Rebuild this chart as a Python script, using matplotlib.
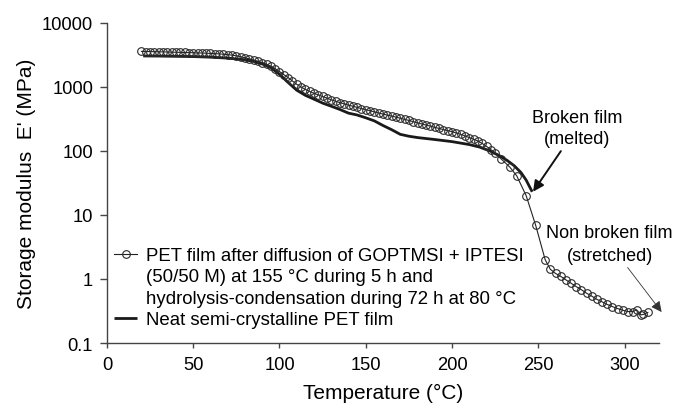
import matplotlib
matplotlib.use("Agg")
import matplotlib.pyplot as plt
from matplotlib.lines import Line2D
from matplotlib.ticker import FixedLocator, FixedFormatter, NullLocator

plt.rcParams['font.family'] = ['Liberation Sans', 'DejaVu Sans']

# PET film after GOPTMSI + IPTESI diffusion (open circles)
temp_treated = [
    20, 22.5, 25, 27.5, 30, 32.5, 35, 37.5, 40, 42.5, 45, 47.5, 50, 52.5, 55, 57.5,
    60, 62.5, 65, 67.5, 70, 72.5, 75, 77.5, 80, 82.5, 85, 87.5, 90, 92.5, 95, 97.5,
    100, 102.5, 105, 107.5, 110, 112.5, 115, 117.5, 120, 122.5, 125, 127.5, 130,
    132.5, 135, 137.5, 140, 142.5, 145, 147.5, 150, 152.5, 155, 157.5, 160, 162.5,
    165, 167.5, 170, 172.5, 175, 177.5, 180, 182.5, 185, 187.5, 190, 192.5, 195,
    197.5, 200, 202.5, 205, 207.5, 210, 212.5, 215, 217.5, 220, 222.5, 225,
    228.5, 233.5, 237.5, 243, 248.5, 254,
    257, 260, 263, 266, 269, 272, 275, 278, 281, 284, 287, 290, 293, 296, 299,
    302, 305, 307, 309.5, 311, 313.5,
]
modulus_treated = [
    3590, 3580, 3570, 3560, 3545, 3530, 3515, 3500, 3485, 3470, 3455, 3440, 3425,
    3405, 3390, 3365, 3340, 3315, 3285, 3250, 3200, 3140, 3070, 2970, 2860, 2750,
    2630, 2520, 2410, 2270, 2110, 1930, 1740, 1560, 1400, 1240, 1100, 1000, 915,
    850, 795, 750, 710, 670, 630, 600, 570, 545, 520, 500, 480, 460, 442, 425, 408,
    392, 377, 363, 351, 338, 325, 312, 300, 287, 275, 264, 254, 244, 234, 225, 216,
    208, 200, 191, 182, 172, 162, 153, 143, 131, 118, 105, 93,
    75, 56, 41, 20, 6.9, 2.0,
    1.42, 1.22, 1.10, 0.97, 0.86, 0.76, 0.68, 0.60, 0.54, 0.48, 0.44, 0.40, 0.37,
    0.345, 0.325, 0.31, 0.31, 0.33, 0.275, 0.28, 0.30,
]

# Neat semi-crystalline PET film (solid line)
temp_neat = [
    21, 30, 40, 50, 60, 70, 80, 85, 90, 95, 100, 105, 110, 115, 120, 125, 130, 135,
    140, 145, 150, 155, 160, 165, 170, 175, 180, 190, 200, 210, 216, 222, 228, 232,
    236, 240, 243, 245, 246.5,
]
modulus_neat = [
    3050, 3040, 3010, 2985, 2920, 2820, 2660, 2510, 2290, 2000, 1580, 1175, 890,
    740, 645, 560, 500, 445, 390, 365, 330, 295, 250, 215, 182, 170, 162, 151, 140,
    126, 115, 100, 83, 71, 59, 46, 35, 27.5, 23,
]

label_treated = ["PET film after diffusion of GOPTMSI + IPTESI",
                 "(50/50 M) at 155 \u00b0C during 5 h and",
                 "hydrolysis-condensation during 72 h at 80 \u00b0C"]
label_neat = "Neat semi-crystalline PET film"

y_ticks = [0.1, 1, 10, 100, 1000, 10000]
y_tick_labels = ["0.1", "1", "10", "100", "1000", "10000"]
x_ticks = [0, 50, 100, 150, 200, 250, 300]

fig = plt.figure(figsize=(6.78, 4.06), dpi=100)
ax = fig.add_axes([0.1578, 0.1527, 0.8142, 0.7883])

line_neat, = ax.plot(temp_neat, modulus_neat, color='#1a1a1a', lw=2.0,
                     solid_capstyle='butt', zorder=2)
line_treated, = ax.plot(temp_treated, modulus_treated, color='#222222', lw=0.8,
                        marker='o', ms=5.5, mfc='none', mec='#2a2a2a', mew=0.8,
                        zorder=3)

ax.set_yscale('log')
ax.set_ylim(0.1, 10000)
ax.set_xlim(0, 320)
ax.yaxis.set_major_locator(FixedLocator(y_ticks))
ax.yaxis.set_major_formatter(FixedFormatter(y_tick_labels))
ax.yaxis.set_minor_locator(NullLocator())
ax.set_xticks(x_ticks)

for side in ('top', 'right'):
    ax.spines[side].set_visible(False)
for side in ('left', 'bottom'):
    ax.spines[side].set_color('#444444')
    ax.spines[side].set_linewidth(1.0)

ax.tick_params(axis='y', direction='out', length=5, width=1.0, color='#444444',
               labelsize=13.2, pad=5)
ax.tick_params(axis='x', direction='out', length=3.6, width=1.0, color='#444444',
               labelsize=13.2, pad=6)

ax.set_xlabel("Temperature (\u00b0C)", fontsize=15, va='center')
ax.xaxis.set_label_coords(0.5, -0.153)
ax.set_ylabel("Storage modulus  E' (MPa)", fontsize=15, va='center')
ax.yaxis.set_label_coords(-0.1467, 0.5)

# legend: first series label spans three rows, handle on the first one
blank = Line2D([], [], linestyle='none', marker=None)
handles = [line_treated, blank, blank, line_neat]
labels = label_treated + [label_neat]
leg = ax.legend(handles, labels, loc='upper left', bbox_to_anchor=(0.168, 0.389),
                bbox_transform=fig.transFigure, frameon=False, fontsize=13.4,
                handlelength=1.25, handletextpad=0.45, labelspacing=0.23,
                borderpad=0, borderaxespad=0)

ax.annotate("Broken film\n(melted)", xy=(247, 23.1), xytext=(272.3, 229),
            ha='center', va='center', fontsize=13, linespacing=1.35,
            arrowprops=dict(arrowstyle='-|>', color='#111111', lw=1.4,
                            mutation_scale=16, shrinkA=1, shrinkB=0))
ax.annotate("Non broken film\n(stretched)", xy=(321.5, 0.305), xytext=(291.4, 3.52),
            ha='center', va='center', fontsize=13, linespacing=1.4,
            annotation_clip=False,
            arrowprops=dict(arrowstyle='-|>', color='#333333', lw=0.6,
                            mutation_scale=16, shrinkA=1, shrinkB=0,
                            facecolor='#111111'))

fig.savefig("out.png", dpi=100)
